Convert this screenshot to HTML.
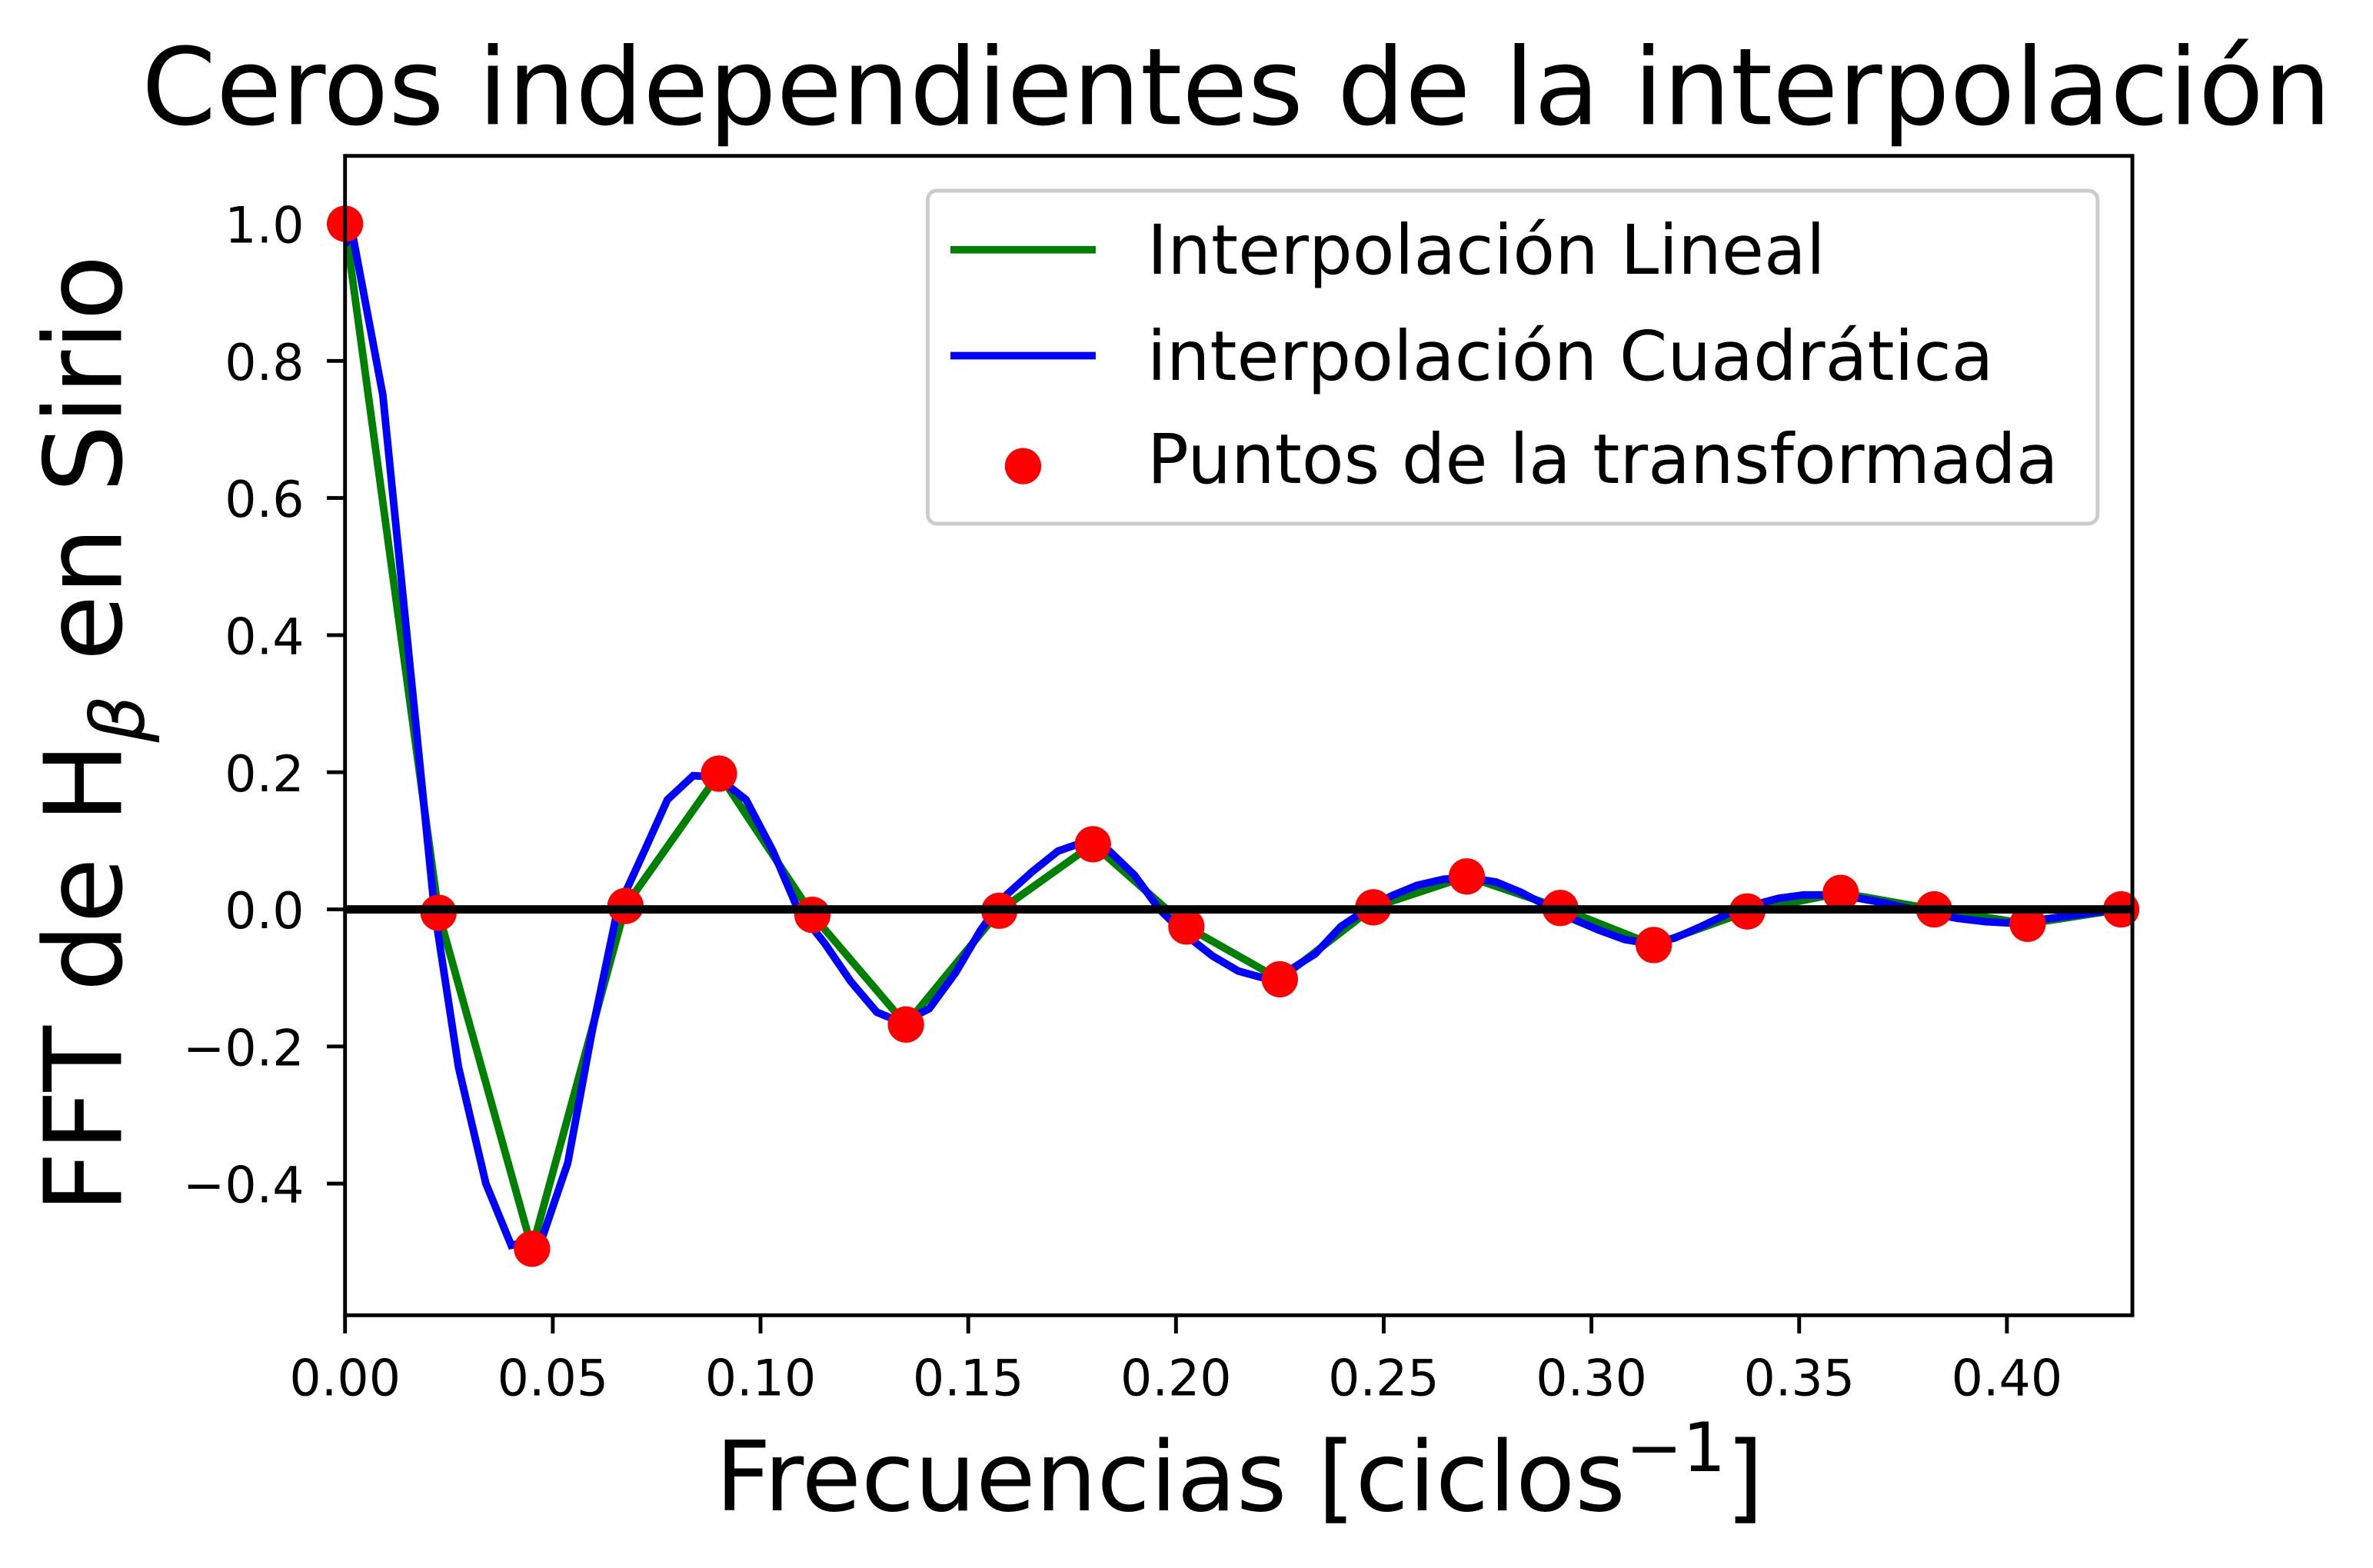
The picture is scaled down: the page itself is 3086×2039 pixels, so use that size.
<!DOCTYPE html>
<html><head><meta charset="utf-8"><style>
html,body{margin:0;padding:0;background:#fff;}
svg{display:block;font-family:"DejaVu Sans","Liberation Sans",sans-serif;}
</style></head><body>
<svg id="chart" xmlns="http://www.w3.org/2000/svg" width="3086" height="2039" viewBox="0 0 1568 1036" preserveAspectRatio="none">
<rect x="0" y="0" width="1568" height="1036" fill="#fff"/>
<text x="817" y="82" font-size="70.5" text-anchor="middle">Ceros independientes de la interpolación</text>
<g id="plot"></g>
<text x="819" y="998" font-size="64" text-anchor="middle">Frecuencias [ciclos<tspan dy="-26" font-size="45">−1</tspan><tspan dy="26">]</tspan></text>
<text transform="translate(80,485) rotate(-90)" font-size="71" text-anchor="middle">FFT de H<tspan dy="15" font-size="49" font-style="italic">β</tspan><tspan dy="-15"> en Sirio</tspan></text>
<g>
<rect x="613" y="126" width="773" height="220" rx="6" fill="#fff" stroke="#ccc" stroke-width="2.5"/>
<line x1="628" y1="165" x2="724" y2="165" stroke="#008000" stroke-width="5"/>
<text x="758" y="181" font-size="45.5">Interpolación Lineal</text>
<line x1="628" y1="235" x2="724" y2="235" stroke="#0000ff" stroke-width="5"/>
<text x="758" y="251" font-size="45.5">interpolación Cuadrática</text>
<circle cx="676" cy="308" r="12" fill="#ff0000"/>
<text x="758" y="319" font-size="45.5">Puntos de la transformada</text>
</g>
</svg>
<script>
const pointVals=[1.0,-0.005,-0.495,0.005,0.198,-0.008,-0.168,-0.002,0.095,-0.025,-0.102,0.003,0.048,0.002,-0.052,-0.003,0.024,0.0,-0.021,0.0];
const pointStep=0.0225;
const quadX=[0,0.0018,0.0091,0.0215,0.0273,0.0339,0.040,0.0474,0.0536,0.0594,0.0656,0.0721,0.0776,0.0838,0.0896,0.0965,0.103,0.109,0.1155,0.1217,0.128,0.134,0.1406,0.147,0.153,0.159,0.1654,0.1716,0.1778,0.184,0.190,0.196,0.2025,0.2088,0.215,0.221,0.227,0.2335,0.2397,0.2459,0.252,0.258,0.2645,0.2707,0.277,0.283,0.2893,0.2955,0.3017,0.308,0.314,0.320,0.3264,0.3326,0.3388,0.345,0.351,0.3574,0.3636,0.370,0.376,0.382,0.388,0.395,0.401,0.407,0.413,0.419,0.428];
const quadY=[0.97,0.985,0.75,0.0,-0.23,-0.40,-0.49,-0.48,-0.37,-0.18,0.0,0.086,0.16,0.195,0.193,0.16,0.085,0.0,-0.05,-0.105,-0.15,-0.165,-0.145,-0.092,-0.03,0.02,0.055,0.085,0.098,0.085,0.05,0.0,-0.038,-0.068,-0.09,-0.1,-0.09,-0.065,-0.025,0.0,0.02,0.035,0.044,0.046,0.04,0.025,0.005,-0.014,-0.03,-0.044,-0.05,-0.042,-0.025,-0.007,0.006,0.016,0.021,0.021,0.017,0.01,0.002,-0.006,-0.013,-0.018,-0.02,-0.016,-0.011,-0.006,0.0];
const xTicks=[0,0.05,0.10,0.15,0.20,0.25,0.30,0.35,0.40];
const xTickLabels=["0.00","0.05","0.10","0.15","0.20","0.25","0.30","0.35","0.40"];
const yTicks=[-0.4,-0.2,0,0.2,0.4,0.6,0.8,1.0];
const yTickLabels=["−0.4","−0.2","0.0","0.2","0.4","0.6","0.8","1.0"];

const L=228,R=1409,T=103,B=869,XMIN=0,XMAX=0.4302,YMIN=-0.592,YMAX=1.099;
const sx=v=>L+(v-XMIN)/(XMAX-XMIN)*(R-L);
const sy=v=>B-(v-YMIN)/(YMAX-YMIN)*(B-T);
const NS="http://www.w3.org/2000/svg";
const g=document.getElementById('plot');
function mk(tag,attrs){const e=document.createElementNS(NS,tag);for(const k in attrs)e.setAttribute(k,attrs[k]);g.appendChild(e);return e;}

const clip=document.createElementNS(NS,'clipPath');clip.setAttribute('id','pc');
const cr=document.createElementNS(NS,'rect');cr.setAttribute('x',L);cr.setAttribute('y',T);cr.setAttribute('width',R-L);cr.setAttribute('height',B-T);
clip.appendChild(cr);g.appendChild(clip);

xTicks.forEach((v,i)=>{
  const t=mk('line',{x1:sx(v),x2:sx(v),y1:B,y2:B+12,stroke:'#000','stroke-width':2.5});
  
  
  const tx=mk('text',{x:sx(v),y:B+53,'font-size':33,'text-anchor':'middle'});
  tx.textContent=xTickLabels[i];
  
  
});
yTicks.forEach((v,i)=>{
  const t=mk('line',{x1:L-12,x2:L,y1:sy(v),y2:sy(v),stroke:'#000','stroke-width':2.5});
  
  
  const tx=mk('text',{x:L-27,y:sy(v)+12.5,'font-size':33,'text-anchor':'end'});
  tx.textContent=yTickLabels[i];
  
  
});

const lin=pointVals.map((v,i)=>sx(i*pointStep).toFixed(2)+','+sy(v).toFixed(2)).join(' ');
const gl=mk('polyline',{points:lin,fill:'none',stroke:'#008000','stroke-width':5,'clip-path':'url(#pc)'});



const quad=quadX.map((x,i)=>sx(x).toFixed(2)+','+sy(quadY[i]).toFixed(2)).join(' ');
const bl=mk('polyline',{points:quad,fill:'none',stroke:'#0000ff','stroke-width':5,'clip-path':'url(#pc)'});



pointVals.forEach((v,i)=>{
  const c=mk('circle',{cx:sx(i*pointStep),cy:sy(v),r:12,fill:'#ff0000'});
  
  
});

const z=mk('line',{x1:L,x2:R,y1:sy(0),y2:sy(0),stroke:'#000','stroke-width':5.5});



const fr=mk('rect',{x:L,y:T,width:R-L,height:B-T,fill:'none',stroke:'#000','stroke-width':2.5});


</script>
</body></html>
